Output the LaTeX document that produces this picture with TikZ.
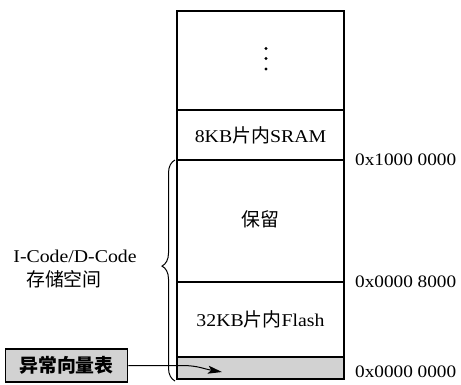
\documentclass[tikz,border=0pt]{standalone}
\usepackage{fontspec}
\setmainfont[FakeStretch=1.1]{Liberation Serif}
\newfontfamily\cjk[Scale=1.05]{Noto Sans CJK SC}
\usetikzlibrary{decorations.pathreplacing,arrows.meta}
\definecolor{vecgray}{HTML}{D2D2D2}
\tikzset{
  sec/.style={draw, line width=1.5pt, minimum width=167pt, inner sep=0pt, font=\fontsize{18}{20}\selectfont},
  addr/.style={anchor=west, inner sep=0pt, font=\fontsize{17.5}{20}\selectfont},
  lbl/.style={inner sep=0pt, font=\fontsize{18}{20}\selectfont, align=center},
  vecbox/.style={draw, line width=1.6pt, fill=vecgray, minimum width=122pt, minimum height=33pt, inner sep=0pt, font=\fontsize{18}{20}\selectfont\cjk\bfseries},
  thin/.style={line width=1pt},
  dot/.style={circle, fill=black, inner sep=0pt, minimum size=3.4pt}
}
\begin{document}
\begin{tikzpicture}[x=1pt, y=-1pt]
\useasboundingbox (0,0) rectangle (461,384);
% column sections
\node[sec, minimum height=99pt] (top) at (260.5,60.5) {};
\node[sec, minimum height=50pt] (sram) at (260.5,135) {8KB{\cjk 片内}SRAM};
\node[sec, minimum height=122pt] (res) at (260.5,221) {\raisebox{4pt}{\cjk 保留}};
\node[sec, minimum height=75pt] (flash) at (260.5,319.5) {32KB{\cjk 片内}Flash};
\node[sec, minimum height=22pt, fill=vecgray] (vec) at (260.5,368) {};
% dots
\node[dot] (d1) at (266,48.5) {};
\node[dot] (d2) at (266,58.5) {};
\node[dot] (d3) at (266,69) {};
% addresses
\node[addr] (a1) at (355,160) {0x1000 0000};
\node[addr] (a2) at (355,282) {0x0000 8000};
\node[addr] (a3) at (355,372) {0x0000 0000};
% brace
\coordinate (bb) at (175,381);
\coordinate (bt) at (175,160);
\draw[thin, decorate, decoration={brace, amplitude=13pt, aspect=0.52}] (bb) -- (bt);
\node[lbl] (ic) at (75,256) {I-Code/D-Code};
\node[lbl] (st) at (64,279) {\cjk 存储空间};
% exception vector table
\node[vecbox] (evt) at (66.5,365.5) {异常向量表};
\coordinate (tip) at (222,372);
\draw[thin, -{Stealth[length=14pt, width=8pt, inset=3pt]}] (evt.east) -- (182,365.5) .. controls (198,365.5) and (204,369) .. (tip);
\end{tikzpicture}
\end{document}
